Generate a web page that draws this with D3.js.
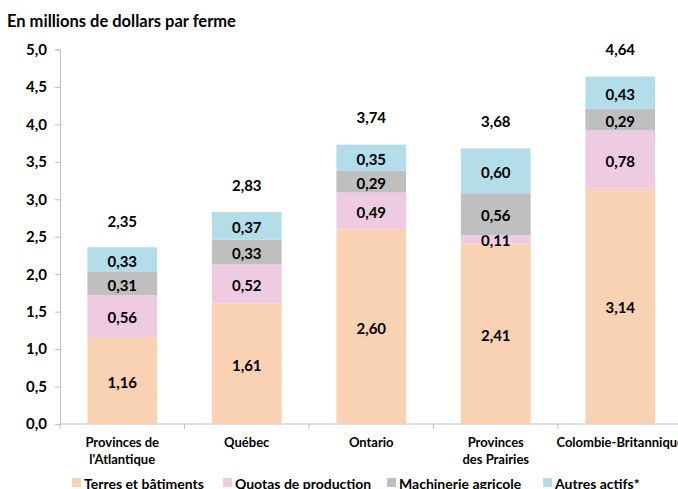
<!DOCTYPE html>
<html>
<head>
<meta charset="utf-8">
<script src="https://cdn.jsdelivr.net/npm/d3@7"></script>
<style>
  body { margin: 0; background: #fff; }
  svg { font-family: Lato, "Open Sans", sans-serif; font-weight: bold; }
</style>
</head>
<body>
<svg id="canvas"></svg>
<script>
const categories = [["Provinces de", "l'Atlantique"], ["Québec"], ["Ontario"], ["Provinces", "des Prairies"], ["Colombie-Britannique"]];
const terres = [1.16, 1.61, 2.60, 2.41, 3.14];
const quotas = [0.56, 0.52, 0.49, 0.11, 0.78];
const machinerie = [0.31, 0.33, 0.29, 0.56, 0.29];
const autres = [0.33, 0.37, 0.35, 0.60, 0.43];
const totals = [2.35, 2.83, 3.74, 3.68, 4.64];
const seriesNames = ["Terres et bâtiments", "Quotas de production", "Machinerie agricole", "Autres actifs*"];
const colors = ["#f9d2b3", "#efcbe2", "#bfbfbf", "#b3dde9"];
const yTicks = [0, 0.5, 1, 1.5, 2, 2.5, 3, 3.5, 4, 4.5, 5];

const width = 678;
const height = 489;

const fmt = v => d3.format('.2f')(v).replace('.', ',');
const fmt1 = v => d3.format('.1f')(v).replace('.', ',');

let canvas = d3.select('#canvas')
    .attr('width', width)
    .attr('height', height);

const idx = d3.range(categories.length);

let xScale = d3.scaleBand()
    .domain(idx)
    .range([60, 682.5])
    .paddingInner(0.44)
    .paddingOuter(0.22);

let yScale = d3.scaleLinear()
    .domain([0, 5])
    .range([424, 49.5]);

// title
canvas.append('text')
    .attr('x', 7)
    .attr('y', 27)
    .attr('font-size', 16.5)
    .text('En millions de dollars par ferme');

// y axis
let yAxis = d3.axisLeft(yScale)
    .tickValues(yTicks)
    .tickFormat(fmt1)
    .tickSize(5)
    .tickPadding(8);
let yg = canvas.append('g')
    .attr('transform', 'translate(60, 0)')
    .call(yAxis);
yg.select('.domain').attr('stroke', '#bfbfbf');
yg.selectAll('.tick line').attr('stroke', '#bfbfbf');
yg.selectAll('.tick text')
    .attr('font-size', 15)
    .attr('font-family', 'Lato, sans-serif')
    .attr('font-weight', 'bold')
    .attr('fill', '#000');

// x axis line with ticks at category boundaries
let step = xScale.step();
canvas.append('line')
    .attr('x1', 60).attr('x2', 682.5)
    .attr('y1', yScale(0)).attr('y2', yScale(0))
    .attr('stroke', '#bfbfbf');
canvas.selectAll('.xtick')
    .data(d3.range(categories.length + 1))
    .enter()
    .append('line')
    .attr('class', 'xtick')
    .attr('x1', i => 60 + i * step)
    .attr('x2', i => 60 + i * step)
    .attr('y1', yScale(0))
    .attr('y2', yScale(0) + 5)
    .attr('stroke', '#bfbfbf');

// x labels
categories.forEach((lines, i) => {
    let t = canvas.append('text')
        .attr('text-anchor', 'middle')
        .attr('font-size', 13)
        .attr('x', xScale(i) + xScale.bandwidth() / 2)
        .attr('y', 447);
    lines.forEach((l, j) => {
        t.append('tspan')
            .attr('x', xScale(i) + xScale.bandwidth() / 2)
            .attr('dy', j === 0 ? 0 : 17)
            .text(l);
    });
});

// stacked bars
const rows = idx.map(i => ({ i: i, s0: terres[i], s1: quotas[i], s2: machinerie[i], s3: autres[i] }));
const stack = d3.stack().keys(['s0', 's1', 's2', 's3'])(rows);

stack.forEach((layer, k) => {
    let g = canvas.append('g');
    g.selectAll('rect')
        .data(layer)
        .enter()
        .append('rect')
        .attr('x', d => xScale(d.data.i))
        .attr('width', xScale.bandwidth())
        .attr('y', d => yScale(d[1]))
        .attr('height', d => yScale(d[0]) - yScale(d[1]))
        .attr('fill', colors[k]);
    g.selectAll('text')
        .data(layer)
        .enter()
        .append('text')
        .attr('text-anchor', 'middle')
        .attr('dominant-baseline', 'central')
        .attr('font-size', 15)
        .attr('x', d => xScale(d.data.i) + xScale.bandwidth() / 2)
        .attr('y', d => (yScale(d[0]) + yScale(d[1])) / 2 + 1)
        .text(d => fmt(d[1] - d[0]));
});

// totals
canvas.selectAll('.total')
    .data(idx)
    .enter()
    .append('text')
    .attr('class', 'total')
    .attr('text-anchor', 'middle')
    .attr('dominant-baseline', 'central')
    .attr('font-size', 15)
    .attr('x', i => xScale(i) + xScale.bandwidth() / 2)
    .attr('y', i => yScale(totals[i]) - 27)
    .text(i => fmt(totals[i]));

// legend
const legendX = [72, 223, 387, 543];
seriesNames.forEach((name, k) => {
    canvas.append('rect')
        .attr('x', legendX[k])
        .attr('y', 478)
        .attr('width', 9)
        .attr('height', 9)
        .attr('fill', colors[k]);
    canvas.append('text')
        .attr('x', legendX[k] + 12)
        .attr('y', 483)
        .attr('dominant-baseline', 'central')
        .attr('font-size', 14)
        .text(name);
});
</script>
</body>
</html>
